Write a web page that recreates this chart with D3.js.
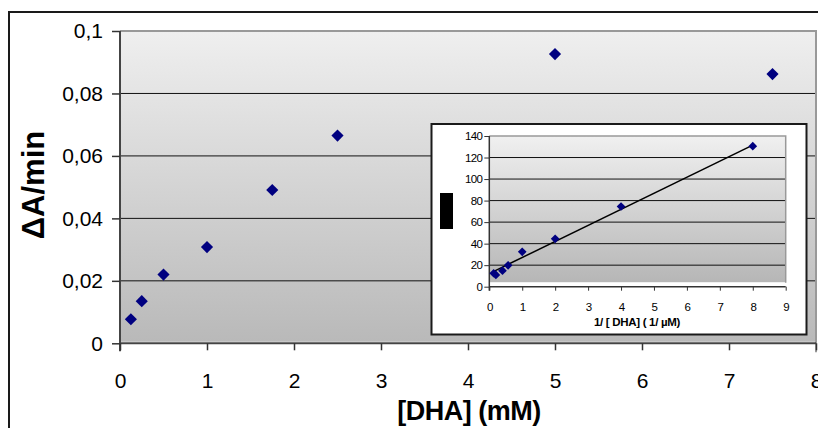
<!DOCTYPE html>
<html><head><meta charset="utf-8">
<script src="https://cdn.jsdelivr.net/npm/d3@7"></script>
<style>
html,body{margin:0;padding:0;background:#fff;}
svg{display:block;font-family:"Liberation Sans",Arial,sans-serif;}
</style></head>
<body><svg id="c" width="818" height="428"></svg>
<script>
// Main chart data: [DHA] (mM) vs ΔA/min
const dhaConc = [0.125, 0.25, 0.5, 1, 1.75, 2.5, 5, 7.5];
const rate = [0.0077, 0.0135, 0.022, 0.0308, 0.0491, 0.0665, 0.0926, 0.0862];
const mainXTicks = [0,1,2,3,4,5,6,7,8];
const mainYTicks = [0,0.02,0.04,0.06,0.08,0.1];
// Inset (Lineweaver-Burk)
const invConc = [0.133, 0.2, 0.4, 0.571, 1, 2, 4, 8];
const invRate = [12.5, 10.9, 14.9, 19.9, 32.4, 44.5, 74.5, 130.5];
const trendX = [0.12, 8];
const trendY = [14, 131.5];
const insetXTicks = [0,1,2,3,4,5,6,7,8,9];
const insetYTicks = [0,20,40,60,80,100,120,140];

const svg = d3.select("#c");
const defs = svg.append("defs");
const g1 = defs.append("linearGradient").attr("id","gm").attr("x1",0).attr("y1",0).attr("x2",0).attr("y2",1);
g1.append("stop").attr("offset","0%").attr("stop-color","#efefef");
g1.append("stop").attr("offset","100%").attr("stop-color","#b9b9b9");
const g2 = defs.append("linearGradient").attr("id","gi").attr("x1",0).attr("y1",0).attr("x2",0).attr("y2",1);
g2.append("stop").attr("offset","0%").attr("stop-color","#f0f0f0");
g2.append("stop").attr("offset","100%").attr("stop-color","#b6b6b6");

// outer frame
svg.append("path").attr("d","M9,440 L9,12 L830,12").attr("fill","none").attr("stroke","#1a1a1a").attr("stroke-width",2);

// main scales
const x = d3.scaleLinear().domain([0,8]).range([120,816]);
const y = d3.scaleLinear().domain([0,0.1]).range([343.3,31]);
const fmt = d => d===0 ? "0" : d3.format(".2~f")(d).replace(".",",");

svg.append("rect").attr("x",x(0)).attr("y",y(0.1)).attr("width",x(8)-x(0)).attr("height",y(0)-y(0.1)-1.5).attr("fill","url(#gm)");
// gridlines
svg.append("g").selectAll("line").data(mainYTicks.filter(d=>d>0&&d<0.1)).join("line")
  .attr("x1",x(0)).attr("x2",x(8)).attr("y1",d=>y(d)).attr("y2",d=>y(d)).attr("stroke","#111").attr("stroke-width",1);
// plot border top/right
svg.append("path").attr("d",`M${x(0)},${y(0.1)} L${x(8)},${y(0.1)} L${x(8)},${y(0)+9}`).attr("fill","none").attr("stroke","#999").attr("stroke-width",2);

// axes
const yAx = svg.append("g").attr("transform",`translate(${x(0)},0)`)
  .call(d3.axisLeft(y).tickValues(mainYTicks).tickFormat(fmt).tickSize(8).tickPadding(9));
const xAx = svg.append("g").attr("transform",`translate(0,${y(0)})`)
  .call(d3.axisBottom(x).tickValues(mainXTicks).tickFormat(d3.format("d")).tickSize(7).tickPadding(23));
[yAx,xAx].forEach(a=>{
  a.select(".domain").attr("stroke","#444").attr("stroke-width",2);
  a.selectAll(".tick line").attr("stroke","#333").attr("stroke-width",1.5);
  a.selectAll("text").attr("font-size",21).attr("fill","#000").attr("font-family","Liberation Sans, Arial, sans-serif");
});
xAx.select(".domain").attr("d",`M${x(0)},0H${x(8)}`);
yAx.select(".domain").attr("d",`M0,${y(0.1)}V${y(0)+8}`);

// main points
svg.append("g").selectAll("path").data(dhaConc).join("path")
  .attr("d",d3.symbol().type(d3.symbolSquare).size(74))
  .attr("transform",(d,i)=>`translate(${x(d)},${y(rate[i])}) rotate(45)`)
  .attr("fill","#000080");

// axis titles
svg.append("text").attr("x",469).attr("y",420).attr("text-anchor","middle")
  .attr("font-size",27).attr("font-weight","bold").attr("fill","#000").attr("letter-spacing",-0.5).text("[DHA] (mM)");
svg.append("text").attr("transform","translate(44,185) rotate(-90)").attr("text-anchor","middle")
  .attr("font-size",31).attr("font-weight","bold").attr("fill","#000").text("ΔA/min");

// inset
svg.append("rect").attr("x",431.5).attr("y",124).attr("width",375).attr("height",210.5)
  .attr("fill","#fff").attr("stroke","#1a1a1a").attr("stroke-width",2);
const xi = d3.scaleLinear().domain([0,9]).range([489.3,785.7]);
const yi = d3.scaleLinear().domain([0,140]).range([286.7,136]);
svg.append("rect").attr("x",xi(0)).attr("y",yi(140)).attr("width",xi(9)-xi(0)).attr("height",yi(0)-yi(140)-4.5).attr("fill","url(#gi)");
svg.append("g").selectAll("line").data(insetYTicks.filter(d=>d>0&&d<140)).join("line")
  .attr("x1",xi(0)).attr("x2",xi(9)).attr("y1",d=>yi(d)).attr("y2",d=>yi(d)).attr("stroke","#111").attr("stroke-width",1);
svg.append("path").attr("d",`M${xi(0)},${yi(140)} L${xi(9)},${yi(140)} L${xi(9)},${yi(0)-4}`).attr("fill","none").attr("stroke","#999").attr("stroke-width",1.5);
const yiAx = svg.append("g").attr("transform",`translate(${xi(0)},0)`)
  .call(d3.axisLeft(yi).tickValues(insetYTicks).tickSize(5).tickPadding(2));
const xiAx = svg.append("g").attr("transform",`translate(0,${yi(0)})`)
  .call(d3.axisBottom(xi).tickValues(insetXTicks).tickSize(4).tickPadding(12));
[yiAx,xiAx].forEach(a=>{
  a.select(".domain").attr("stroke","#333").attr("stroke-width",1.5);
  a.selectAll(".tick line").attr("stroke","#333").attr("stroke-width",1);
  a.selectAll("text").attr("font-size",11.5).attr("fill","#000").attr("letter-spacing",-0.6).attr("font-family","Liberation Sans, Arial, sans-serif");
});
xiAx.select(".domain").attr("d",`M${xi(0)},0H${xi(9)}`);
yiAx.select(".domain").attr("d",`M0,${yi(140)}V${yi(0)+4}`);
// trend line
svg.append("line").attr("x1",xi(trendX[0])).attr("y1",yi(trendY[0])).attr("x2",xi(trendX[1])).attr("y2",yi(trendY[1]))
  .attr("stroke","#000").attr("stroke-width",1.5);
svg.append("g").selectAll("path").data(invConc).join("path")
  .attr("d",d3.symbol().type(d3.symbolSquare).size(38)).attr("transform",(d,i)=>`translate(${xi(d)},${yi(invRate[i])}) rotate(45)`)
  .attr("fill","#000080");
svg.append("text").attr("x",637).attr("y",326).attr("text-anchor","middle")
  .attr("font-size",11.5).attr("font-weight","bold").attr("fill","#000").attr("letter-spacing",-0.3).text("1/ [ DHA]  ( 1/ µM)");
// black block (masked y-title)
svg.append("rect").attr("x",440).attr("y",193).attr("width",13).attr("height",36).attr("fill","#000");
</script></body></html>
